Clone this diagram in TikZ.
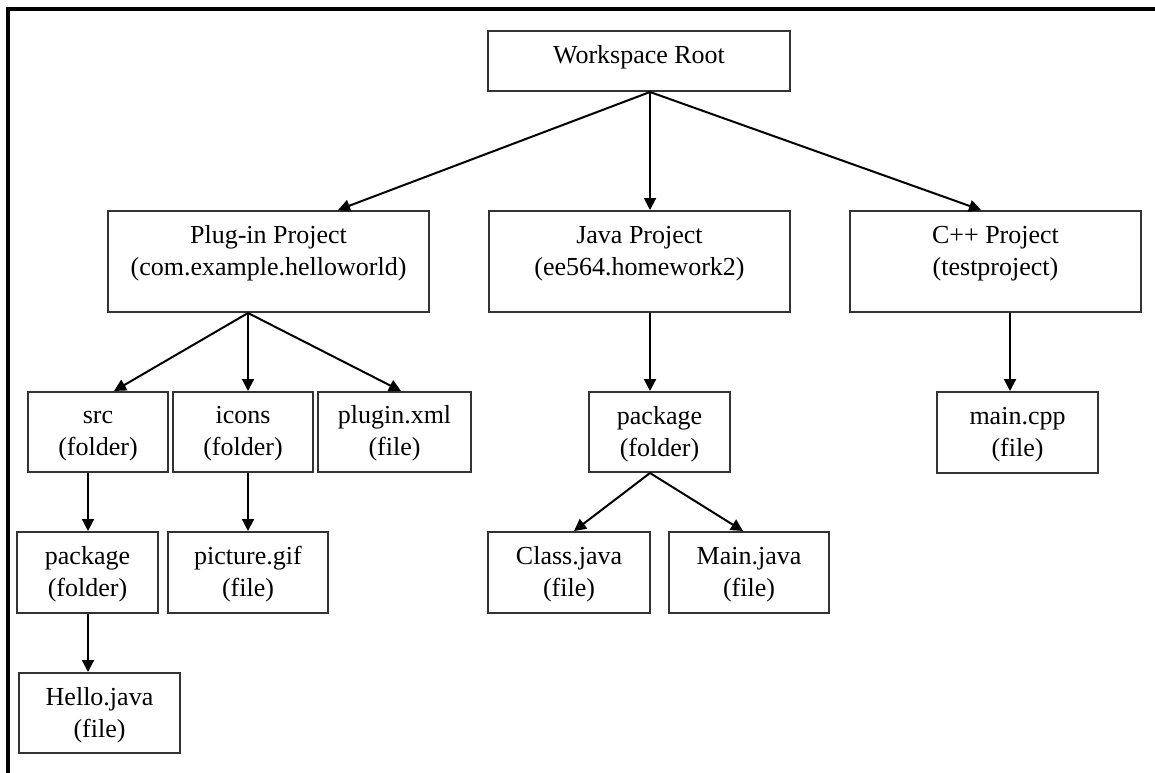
\documentclass[tikz,border=0pt]{standalone}
\usepackage{fontspec}
\setmainfont{Liberation Serif}
\usetikzlibrary{arrows.meta,calc}
\definecolor{boxgray}{HTML}{333333}
\begin{document}
\begin{tikzpicture}[x=1pt,y=-1pt,
  box/.style={draw=boxgray,line width=2pt,rectangle,inner sep=0pt,anchor=north west},
  lbl/.style={anchor=north,inner sep=0pt,align=center,font=\fontsize{26}{32}\selectfont,text=black},
  arr/.style={draw=black,line width=2pt,-{Triangle[width=12pt,length=12pt]}},
  frame/.style={draw=black,line width=4.5pt,line join=miter}]
\useasboundingbox (0,0) rectangle (1155,772);
\draw[frame] (1160,9) -- (8,9) -- (8,780);

% boxes
\node[box,minimum width=302pt,minimum height=60pt]  (root) at (487,30) {};
\node[box,minimum width=321pt,minimum height=101pt] (plug) at (107,210) {};
\node[box,minimum width=301pt,minimum height=101pt] (java) at (488,210) {};
\node[box,minimum width=291pt,minimum height=101pt] (cpp)  at (849,210) {};
\node[box,minimum width=140pt,minimum height=80pt]  (src)  at (27,391) {};
\node[box,minimum width=140pt,minimum height=80pt]  (icons) at (172,391) {};
\node[box,minimum width=153pt,minimum height=80pt]  (pxml) at (317,391) {};
\node[box,minimum width=141pt,minimum height=80pt]  (jpkg) at (588,391) {};
\node[box,minimum width=161pt,minimum height=81pt]  (mcpp) at (936,391) {};
\node[box,minimum width=141pt,minimum height=81pt]  (pkg)  at (16,531) {};
\node[box,minimum width=160pt,minimum height=81pt]  (pic)  at (167,531) {};
\node[box,minimum width=162pt,minimum height=81pt]  (cls)  at (487,531) {};
\node[box,minimum width=160pt,minimum height=81pt]  (mainj) at (668,531) {};
\node[box,minimum width=161pt,minimum height=80pt]  (hello) at (18,672) {};

% labels
\node[lbl] (root-t)  at ([yshift=-10.6pt]root.north)  {\strut Workspace Root};
\node[lbl] (plug-t)  at ([yshift=-10.6pt]plug.north)  {\strut Plug-in Project\\(com.example.helloworld)};
\node[lbl] (java-t)  at ([yshift=-10.6pt]java.north)  {\strut Java Project\\(ee564.homework2)};
\node[lbl] (cpp-t)   at ([yshift=-10.6pt]cpp.north)   {\strut C++ Project\\(testproject)};
\node[lbl] (src-t)   at ([yshift=-9.6pt]src.north)    {\strut src\\(folder)};
\node[lbl] (icons-t) at ([yshift=-9.6pt]icons.north)  {\strut icons\\(folder)};
\node[lbl] (pxml-t)  at ([yshift=-9.6pt]pxml.north)   {\strut plugin.xml\\(file)};
\node[lbl] (jpkg-t)  at ([yshift=-10.6pt]jpkg.north)  {\strut package\\(folder)};
\node[lbl] (mcpp-t)  at ([yshift=-10.6pt]mcpp.north)  {\strut main.cpp\\(file)};
\node[lbl] (pkg-t)   at ([yshift=-10.6pt]pkg.north)   {\strut package\\(folder)};
\node[lbl] (pic-t)   at ([yshift=-10.6pt]pic.north)   {\strut picture.gif\\(file)};
\node[lbl] (cls-t)   at ([yshift=-10.6pt]cls.north)   {\strut Class.java\\(file)};
\node[lbl] (mainj-t) at ([yshift=-10.6pt]mainj.north) {\strut Main.java\\(file)};
\node[lbl] (hello-t) at ([yshift=-10.6pt]hello.north) {\strut Hello.java\\(file)};

% connectors
\draw[arr] ([xshift=11pt]root.south) -- ([xshift=69.5pt]plug.north);
\draw[arr] ([xshift=11pt]root.south) -- ([xshift=10.5pt]java.north);
\draw[arr] ([xshift=11pt]root.south) -- ([xshift=-14.5pt]cpp.north);
\draw[arr] ([xshift=-20.5pt]plug.south) -- ([xshift=16pt]src.north);
\draw[arr] ([xshift=-20.5pt]plug.south) -- ([xshift=5pt]icons.north);
\draw[arr] ([xshift=-20.5pt]plug.south) -- ([xshift=6.5pt]pxml.north);
\draw[arr] ([xshift=10.5pt]java.south) -- ([xshift=-9.5pt]jpkg.north);
\draw[arr] ([xshift=14.5pt]cpp.south) -- ([xshift=-7.5pt]mcpp.north);
\draw[arr] ([xshift=-10pt]src.south) -- ([xshift=0.5pt]pkg.north);
\draw[arr] ([xshift=5pt]icons.south) -- (pic.north);
\draw[arr] ([xshift=0.5pt]pkg.south) -- ([xshift=-11.5pt]hello.north);
\draw[arr] ([xshift=-9.5pt]jpkg.south) -- ([xshift=5pt]cls.north);
\draw[arr] ([xshift=-9.5pt]jpkg.south) -- ([xshift=-6pt]mainj.north);
\end{tikzpicture}
\end{document}
